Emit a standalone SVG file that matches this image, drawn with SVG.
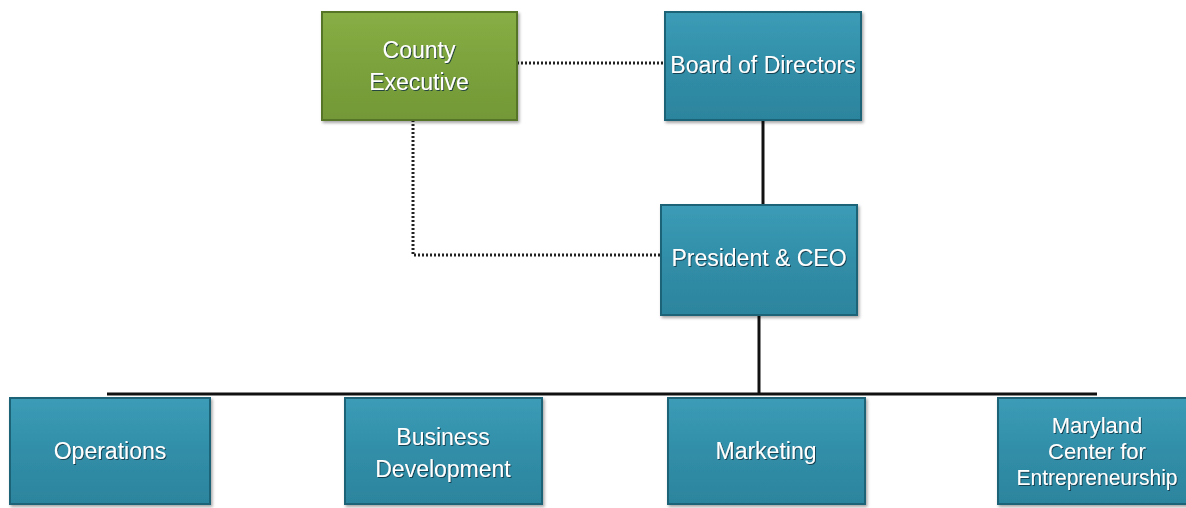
<svg xmlns="http://www.w3.org/2000/svg" width="1186" height="508" viewBox="0 0 1186 508">
<defs>
<linearGradient id="gBlue" x1="0" y1="0" x2="0" y2="1">
<stop offset="0" stop-color="#3c9cb7"/>
<stop offset="0.5" stop-color="#318ea8"/>
<stop offset="1" stop-color="#2c849d"/>
</linearGradient>
<linearGradient id="gGreen" x1="0" y1="0" x2="0" y2="1">
<stop offset="0" stop-color="#88ae46"/>
<stop offset="0.5" stop-color="#7ba23c"/>
<stop offset="1" stop-color="#739837"/>
</linearGradient>
<filter id="sh" x="-10%" y="-10%" width="130%" height="130%">
<feDropShadow dx="1.5" dy="2" stdDeviation="1.5" flood-color="#000" flood-opacity="0.35"/>
</filter>
<filter id="tsh" x="-10%" y="-30%" width="120%" height="160%">
<feDropShadow dx="1" dy="1" stdDeviation="0.6" flood-color="#0b3340" flood-opacity="0.8"/>
</filter>
</defs>
<style>
.blue{fill:url(#gBlue);stroke:#1f6478;stroke-width:2;filter:url(#sh)}
.green{fill:url(#gGreen);stroke:#567525;stroke-width:2;filter:url(#sh)}
.t{font-family:"Liberation Sans",Arial,sans-serif;font-size:23px;fill:#ffffff;text-anchor:middle;filter:url(#tsh)}
.s{font-size:22px}
.solid{stroke:#111;stroke-width:3;fill:none}
.dot{stroke:#222;stroke-width:3;fill:none;stroke-dasharray:2 2}
</style>
<rect width="1186" height="508" fill="#ffffff"/>
<g id="connectors">
<path class="dot" d="M517 63 H665"/>
<path class="dot" d="M413 120 V255 H661"/>
<path class="solid" d="M763 121 V205"/>
<path class="solid" d="M759 315 V394"/>
<path class="solid" d="M107 394 H1097"/>
</g>
<g id="county-executive">
<rect class="green" x="322" y="12" width="195" height="108"/>
<text class="t" x="419" y="58">County</text>
<text class="t" x="419" y="90">Executive</text>
</g>
<g id="board-of-directors">
<rect class="blue" x="665" y="12" width="196" height="108"/>
<text class="t" x="763" y="73">Board of Directors</text>
</g>
<g id="president-ceo">
<rect class="blue" x="661" y="205" width="196" height="110"/>
<text class="t" x="759" y="266">President &amp; CEO</text>
</g>
<g id="operations">
<rect class="blue" x="10" y="398" width="200" height="106"/>
<text class="t" x="110" y="459">Operations</text>
</g>
<g id="business-development">
<rect class="blue" x="345" y="398" width="197" height="106"/>
<text class="t" x="443" y="445">Business</text>
<text class="t" x="443" y="477">Development</text>
</g>
<g id="marketing">
<rect class="blue" x="668" y="398" width="197" height="106"/>
<text class="t" x="766" y="459">Marketing</text>
</g>
<g id="maryland-center">
<rect class="blue" x="998" y="398" width="200" height="106"/>
<text class="t s" x="1097" y="433">Maryland</text>
<text class="t s" x="1097" y="459">Center for</text>
<text class="t s" x="1097" y="485" textLength="161" lengthAdjust="spacingAndGlyphs">Entrepreneurship</text>
</g>
</svg>
